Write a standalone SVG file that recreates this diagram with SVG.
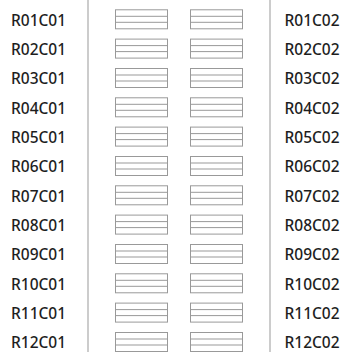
<svg xmlns="http://www.w3.org/2000/svg" width="347" height="352" viewBox="0 0 347 352">
<defs>
<style>
.lbl{font-family:"Noto Sans","Liberation Sans",sans-serif;font-size:15.5px;font-weight:500;fill:#1e1e1e}
.sep{stroke:#aaa;stroke-width:1.2;fill:none}
.box{stroke:#999;stroke-width:1;fill:#fff}
.ln{stroke:#999;stroke-width:1}
</style>
<g id="slot">
<rect class="box" x="0.5" y="0.5" width="52" height="19"/>
<line class="ln" x1="0.5" y1="7" x2="52.5" y2="7"/>
<line class="ln" x1="0.5" y1="13" x2="52.5" y2="13"/>
</g>
</defs>
<rect width="347" height="352" fill="#fff"/>
<g id="connectors">
<line class="sep" x1="88" y1="0" x2="88" y2="352"/>
<line class="sep" x1="270" y1="0" x2="270" y2="352"/>
</g>
<g id="r01"><text class="lbl" x="11" y="25.7">R01C01</text><use href="#slot" x="115" y="9.3"/><use href="#slot" x="190" y="9.3"/><text class="lbl" x="284.5" y="25.7">R01C02</text></g>
<g id="r02"><text class="lbl" x="11" y="55">R02C01</text><use href="#slot" x="115" y="38.6"/><use href="#slot" x="190" y="38.6"/><text class="lbl" x="284.5" y="55">R02C02</text></g>
<g id="r03"><text class="lbl" x="11" y="84.4">R03C01</text><use href="#slot" x="115" y="68"/><use href="#slot" x="190" y="68"/><text class="lbl" x="284.5" y="84.4">R03C02</text></g>
<g id="r04"><text class="lbl" x="11" y="113.7">R04C01</text><use href="#slot" x="115" y="97.3"/><use href="#slot" x="190" y="97.3"/><text class="lbl" x="284.5" y="113.7">R04C02</text></g>
<g id="r05"><text class="lbl" x="11" y="143">R05C01</text><use href="#slot" x="115" y="126.6"/><use href="#slot" x="190" y="126.6"/><text class="lbl" x="284.5" y="143">R05C02</text></g>
<g id="r06"><text class="lbl" x="11" y="172.4">R06C01</text><use href="#slot" x="115" y="156"/><use href="#slot" x="190" y="156"/><text class="lbl" x="284.5" y="172.4">R06C02</text></g>
<g id="r07"><text class="lbl" x="11" y="201.7">R07C01</text><use href="#slot" x="115" y="185.3"/><use href="#slot" x="190" y="185.3"/><text class="lbl" x="284.5" y="201.7">R07C02</text></g>
<g id="r08"><text class="lbl" x="11" y="231">R08C01</text><use href="#slot" x="115" y="214.6"/><use href="#slot" x="190" y="214.6"/><text class="lbl" x="284.5" y="231">R08C02</text></g>
<g id="r09"><text class="lbl" x="11" y="260.4">R09C01</text><use href="#slot" x="115" y="244"/><use href="#slot" x="190" y="244"/><text class="lbl" x="284.5" y="260.4">R09C02</text></g>
<g id="r10"><text class="lbl" x="11" y="289.7">R10C01</text><use href="#slot" x="115" y="273.3"/><use href="#slot" x="190" y="273.3"/><text class="lbl" x="284.5" y="289.7">R10C02</text></g>
<g id="r11"><text class="lbl" x="11" y="319">R11C01</text><use href="#slot" x="115" y="302.6"/><use href="#slot" x="190" y="302.6"/><text class="lbl" x="284.5" y="319">R11C02</text></g>
<g id="r12"><text class="lbl" x="11" y="348.4">R12C01</text><use href="#slot" x="115" y="332"/><use href="#slot" x="190" y="332"/><text class="lbl" x="284.5" y="348.4">R12C02</text></g>
</svg>
